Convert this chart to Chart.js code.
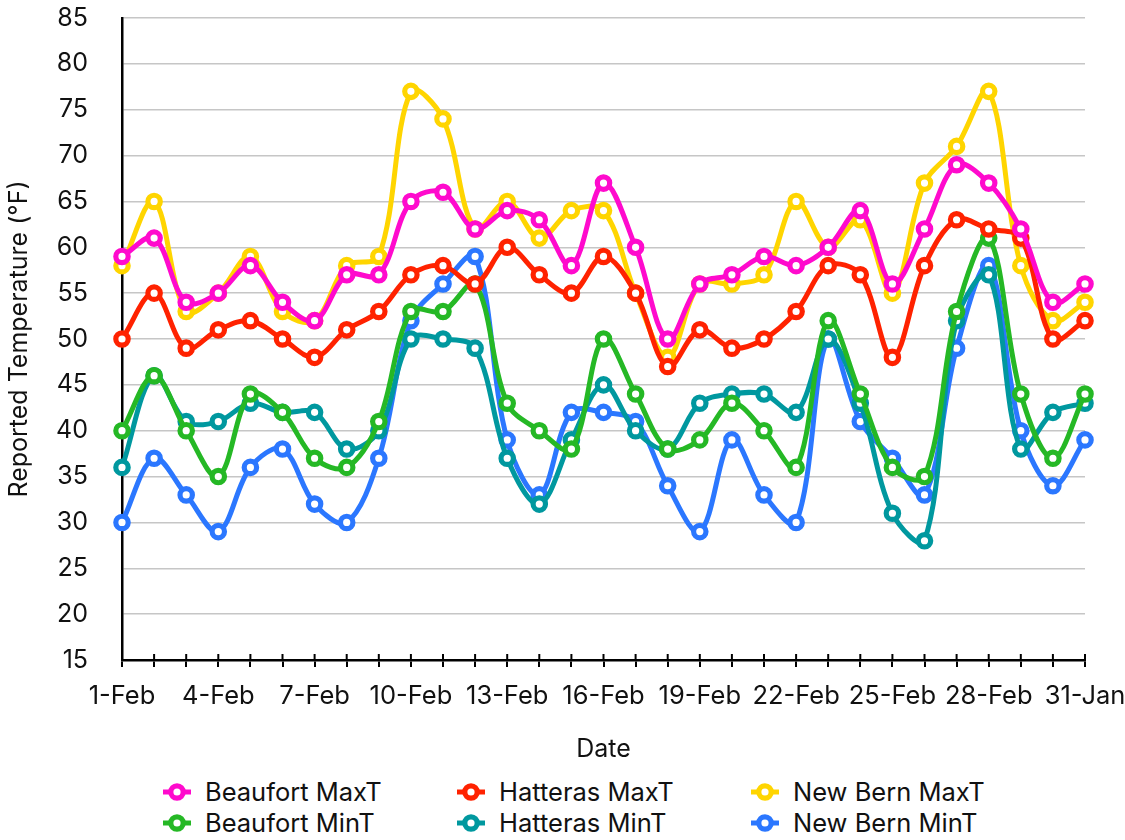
<!DOCTYPE html>
<html>
<head>
<meta charset="utf-8">
<script src="https://cdn.jsdelivr.net/npm/chart.js@4/dist/chart.umd.min.js"></script>
<style>
  html, body { margin: 0; padding: 0; background: #ffffff; }
  #wrap { position: relative; width: 1125px; height: 840px; font-family: Inter, "Noto Sans", sans-serif; }
  #box { position: absolute; left: 0; top: 0; width: 1125px; height: 770px; }
  #legend { position: absolute; left: 0; top: 776px; width: 1125px; }
  .item { position: absolute; height: 31px; display: flex; align-items: center; font-size: 25.5px; color: #111; white-space: nowrap; line-height: 31px; }
  .item svg { margin-right: 13px; }
</style>
</head>
<body>
<div id="wrap">
  <div id="box"><canvas id="c"></canvas></div>
  <div id="legend"></div>
</div>
<script>
const categories = ["1-Feb","2-Feb","3-Feb","4-Feb","5-Feb","6-Feb","7-Feb","8-Feb","9-Feb","10-Feb",
  "11-Feb","12-Feb","13-Feb","14-Feb","15-Feb","16-Feb","17-Feb","18-Feb","19-Feb","20-Feb",
  "21-Feb","22-Feb","23-Feb","24-Feb","25-Feb","26-Feb","27-Feb","28-Feb","29-Jan","30-Jan","31-Jan"];

const beaufortMaxT = [59,61,54,55,58,54,52,57,57,65,66,62,64,63,58,67,60,50,56,57,59,58,60,64,56,62,69,67,62,54,56];
const hatterasMaxT = [50,55,49,51,52,50,48,51,53,57,58,56,60,57,55,59,55,47,51,49,50,53,58,57,48,58,63,62,61,50,52];
const newBernMaxT  = [58,65,53,55,59,53,52,58,59,77,74,62,65,61,64,64,55,48,56,56,57,65,60,63,55,67,71,77,58,52,54];
const beaufortMinT = [40,46,40,35,44,42,37,36,41,53,53,56,43,40,38,50,44,38,39,43,40,36,52,44,36,35,53,61,44,37,44];
const hatterasMinT = [36,46,41,41,43,42,42,38,40,50,50,49,37,32,39,45,40,38,43,44,44,42,50,43,31,28,52,57,38,42,43];
const newBernMinT  = [30,37,33,29,36,38,32,30,37,52,56,59,39,33,42,42,41,34,29,39,33,30,50,41,37,33,49,58,40,34,39];

const seriesNames  = ["Beaufort MaxT","Hatteras MaxT","New Bern MaxT","Beaufort MinT","Hatteras MinT","New Bern MinT"];
const seriesValues = [beaufortMaxT, hatterasMaxT, newBernMaxT, beaufortMinT, hatterasMinT, newBernMinT];
const seriesColors = ["#ff0acd","#ff2200","#ffd500","#25b825","#00989f","#2b77ff"];

const yMin = 15, yMax = 85, yStep = 5;
const xTitle = "Date";
const yTitle = "Reported Temperature (°F)";

const FONT = "Inter, 'Noto Sans', sans-serif";

const crossTicks = {
  id: 'crossTicks',
  beforeDatasetsDraw(chart) {
    const xs = chart.scales.x;
    const ctx = chart.ctx;
    ctx.save();
    ctx.strokeStyle = '#000';
    ctx.lineWidth = 2;
    for (let i = 0; i < xs.ticks.length; i++) {
      const px = xs.getPixelForTick(i);
      ctx.beginPath();
      ctx.moveTo(px, xs.top);
      ctx.lineTo(px, xs.top - 6);
      ctx.stroke();
    }
    ctx.restore();
  }
};

const datasets = seriesNames.map((name, i) => ({
  label: name,
  data: seriesValues[i],
  borderColor: seriesColors[i],
  backgroundColor: '#ffffff',
  pointBackgroundColor: '#ffffff',
  pointBorderColor: seriesColors[i],
  pointRadius: 6.2,
  pointBorderWidth: 5.2,
  pointHoverRadius: 6.2,
  borderWidth: 5,
  tension: 0.35,
  fill: false
}));

new Chart(document.getElementById('c'), {
  type: 'line',
  data: { labels: categories, datasets },
  options: {
    responsive: true,
    maintainAspectRatio: false,
    animation: false,
    events: [],
    layout: { padding: { left: 0, right: 40, top: 18, bottom: 2 } },
    plugins: { legend: { display: false }, tooltip: { enabled: false } },
    scales: {
      x: {
        type: 'category',
        offset: false,
        grid: { drawOnChartArea: false, drawTicks: true, tickLength: 7, color: '#000', lineWidth: 2 },
        border: { display: true, color: '#000', width: 2.5 },
        ticks: {
          autoSkip: false, maxRotation: 0, minRotation: 0, padding: 14,
          color: '#111', font: { family: FONT, size: 25.5 },
          callback: function(v, idx) { return idx % 3 === 0 ? this.getLabelForValue(v) : ''; }
        },
        title: { display: true, text: xTitle, color: '#111', font: { family: FONT, size: 25 } },
        afterFit(scale) { scale.height = 108; scale.paddingLeft = 0; scale.paddingRight = 0; }
      },
      y: {
        min: yMin, max: yMax,
        grid: { color: '#c6c6c6', lineWidth: 1.5, drawTicks: false },
        border: { display: true, color: '#000', width: 2.5 },
        ticks: { stepSize: yStep, padding: 34, color: '#111', font: { family: FONT, size: 25 } },
        title: { display: true, text: yTitle, color: '#111', font: { family: FONT, size: 25 } },
        afterFit(scale) { scale.width = 122; scale.paddingTop = 0; scale.paddingBottom = 0; }
      }
    }
  },
  plugins: [crossTicks]
});

// HTML legend: 3 columns x 2 rows
const legend = document.getElementById('legend');
const markerCenters = [177, 471, 765];
seriesNames.forEach((name, i) => {
  const col = i % 3, row = Math.floor(i / 3);
  const el = document.createElement('div');
  el.className = 'item';
  el.style.left = (markerCenters[col] - 15) + 'px';
  el.style.top = (row * 31) + 'px';
  el.innerHTML = '<svg width="30" height="24" viewBox="0 0 30 24">' +
    '<line x1="1" y1="12" x2="29" y2="12" stroke="' + seriesColors[i] + '" stroke-width="5"/>' +
    '<circle cx="15" cy="12" r="6.2" fill="#fff" stroke="' + seriesColors[i] + '" stroke-width="5.2"/></svg>' +
    '<span>' + name + '</span>';
  legend.appendChild(el);
});
</script>
</body>
</html>
